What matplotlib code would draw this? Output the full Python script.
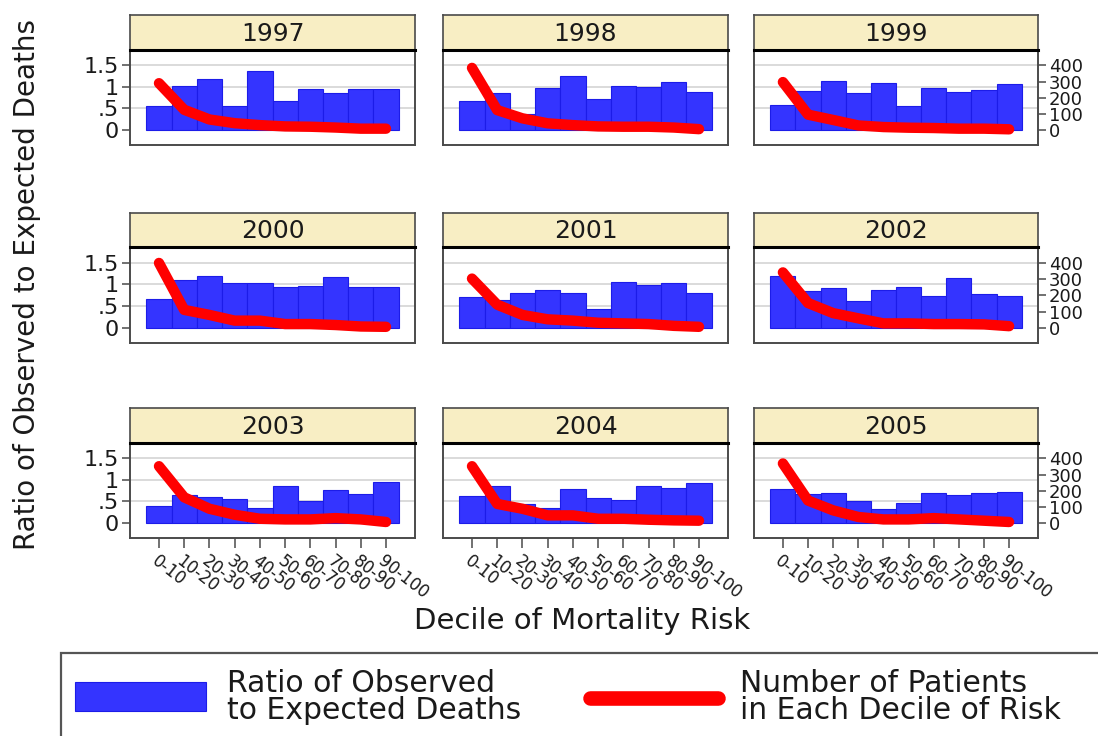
"""
Observed/expected death ratio and patient counts by decile of mortality risk,
one small panel per year (1997-2005), bars on the left axis and the patient
count as a thick red line on the right axis.
"""
import matplotlib
matplotlib.use("Agg")
import matplotlib.pyplot as plt
from matplotlib.patches import Rectangle
from matplotlib.lines import Line2D
import numpy as np


# ---------------------------------------------------------------------------
# Data
# ---------------------------------------------------------------------------

years = ["1997", "1998", "1999", "2000", "2001", "2002", "2003", "2004", "2005"]
deciles = ["0-10", "10-20", "20-30", "30-40", "40-50",
           "50-60", "60-70", "70-80", "80-90", "90-100"]

# ratio of observed to expected deaths, one row per year
ratio = [
    [0.55, 1.03, 1.18, 0.55, 1.37, 0.68, 0.95, 0.86, 0.95, 0.95],
    [0.67, 0.85, 0.37, 0.98, 1.25, 0.73, 1.02, 0.99, 1.12, 0.88],
    [0.58, 0.90, 1.14, 0.85, 1.09, 0.56, 0.98, 0.88, 0.94, 1.06],
    [0.66, 1.10, 1.19, 1.03, 1.03, 0.94, 0.97, 1.16, 0.94, 0.94],
    [0.71, 0.65, 0.79, 0.88, 0.79, 0.43, 1.05, 0.98, 1.04, 0.79],
    [1.20, 0.84, 0.92, 0.62, 0.87, 0.93, 0.73, 1.14, 0.77, 0.73],
    [0.40, 0.66, 0.61, 0.56, 0.35, 0.86, 0.50, 0.77, 0.67, 0.96],
    [0.62, 0.86, 0.44, 0.35, 0.80, 0.57, 0.53, 0.85, 0.82, 0.92],
    [0.79, 0.67, 0.69, 0.50, 0.33, 0.46, 0.69, 0.65, 0.69, 0.73],
]

# number of patients in each decile of risk, one row per year
patients = [
    [290, 125, 65, 42, 30, 22, 20, 15, 8, 8],
    [385, 123, 72, 41, 30, 22, 20, 20, 15, 5],
    [297, 95, 62, 28, 18, 14, 12, 8, 8, 4],
    [398, 110, 79, 44, 44, 23, 23, 17, 8, 6],
    [302, 142, 79, 52, 44, 31, 27, 23, 12, 6],
    [340, 152, 90, 58, 27, 27, 23, 23, 21, 10],
    [352, 159, 88, 51, 26, 22, 22, 30, 22, 6],
    [352, 118, 88, 47, 47, 26, 26, 20, 16, 14],
    [369, 139, 78, 37, 22, 22, 30, 22, 14, 6],
]

ratio_ticks = [0, 0.5, 1, 1.5]
ratio_ticklabels = ["0", ".5", "1", "1.5"]
count_ticks = [0, 100, 200, 300, 400]

# ---------------------------------------------------------------------------
# Styling / layout (pixel units on a 1098 x 736 canvas)
# ---------------------------------------------------------------------------

W, H = 1098, 736
BLUE = "#3434FF"
BLUE_EDGE = "#1C1CE8"
RED = "#FF0000"
STRIP = "#F8EEC4"
FRAME = "#4a4a4a"
TEXT = "#1a1a1a"
GRID = "#d8d8d8"

col_px = [(130, 415), (443, 728), (754, 1038)]
row_px = [(15, 50, 145), (213, 247, 343), (408, 443, 538)]   # strip top, plot top, plot bottom

ylim = (-0.35, 1.86)
scale = 400 / 1.5          # right-axis counts per unit of ratio
xlim = (-1.15, 10.15)

plt.rcParams["font.family"] = ["DejaVu Sans"]
plt.rcParams["text.color"] = TEXT
plt.rcParams["xtick.color"] = FRAME
plt.rcParams["ytick.color"] = FRAME
plt.rcParams["xtick.labelcolor"] = TEXT
plt.rcParams["ytick.labelcolor"] = TEXT

fig = plt.figure(figsize=(W / 100, H / 100), dpi=100)
fig.patch.set_facecolor("white")


def px_rect(x0, x1, ytop, ybot):
    return [x0 / W, 1 - ybot / H, (x1 - x0) / W, (ybot - ytop) / H]


x = np.arange(len(deciles))

for i, year in enumerate(years):
    r, c = divmod(i, 3)
    x0, x1 = col_px[c]
    s_top, p_top, p_bot = row_px[r]

    # --- year strip ---
    strip = fig.add_axes(px_rect(x0, x1, s_top, p_top))
    strip.set_facecolor(STRIP)
    strip.set_xticks([])
    strip.set_yticks([])
    for sp in strip.spines.values():
        sp.set_color(FRAME)
        sp.set_linewidth(1.2)
    strip.text(0.5, 0.47, year, ha="center", va="center",
               fontsize=18, transform=strip.transAxes)

    # --- bars: observed / expected ratio ---
    ax = fig.add_axes(px_rect(x0, x1, p_top, p_bot))
    for g in ratio_ticks[1:]:
        ax.axhline(g, color=GRID, linewidth=1.3, zorder=0)
    ax.bar(x, ratio[i], width=1.0, color=BLUE, edgecolor=BLUE_EDGE,
           linewidth=0.8, zorder=2)
    ax.set_xlim(*xlim)
    ax.set_ylim(*ylim)
    for sp in ax.spines.values():
        sp.set_color(FRAME)
        sp.set_linewidth(1.2)

    if c == 0:
        ax.set_yticks(ratio_ticks)
        ax.set_yticklabels(ratio_ticklabels)
        ax.tick_params(axis="y", labelsize=16, length=6, width=1.1, pad=2)
    else:
        ax.set_yticks([])

    if r == 2:
        ax.set_xticks(x)
        ax.set_xticklabels(deciles, rotation=-38, ha="left", va="top",
                           rotation_mode="anchor")
        ax.tick_params(axis="x", labelsize=12, length=7, width=1.1, pad=3)
    else:
        ax.set_xticks([])

    # --- line: number of patients (right axis) ---
    ax2 = ax.twinx()
    ax2.plot(x, patients[i], color=RED, linewidth=7.5,
             solid_capstyle="round", solid_joinstyle="round", zorder=3)
    ax2.set_ylim(ylim[0] * scale, ylim[1] * scale)
    ax2.set_xlim(*xlim)
    for sp in ax2.spines.values():
        sp.set_color(FRAME)
        sp.set_linewidth(1.2)
    ax2.spines["top"].set_color("black")
    ax2.spines["top"].set_linewidth(2.2)

    if c == 2:
        ax2.set_yticks(count_ticks)
        ax2.tick_params(axis="y", labelsize=13, length=6, width=1.1, pad=2)
    else:
        ax2.set_yticks([])

# axis titles
fig.text(27 / W, 1 - 285 / H, "Ratio of Observed to Expected Deaths",
         rotation=90, ha="center", va="center", fontsize=20)
fig.text(582 / W, 1 - 621 / H, "Decile of Mortality Risk",
         ha="center", va="center", fontsize=21)

# ---------------------------------------------------------------------------
# Legend panel along the bottom edge
# ---------------------------------------------------------------------------

leg = fig.add_axes([0, 0, 1, 1], zorder=-1)
leg.set_xlim(0, W)
leg.set_ylim(H, 0)
leg.axis("off")
leg.add_patch(Rectangle((61, 653), W + 20, 120, facecolor="white",
                        edgecolor="#555555", linewidth=1.6))
leg.add_patch(Rectangle((75, 682), 131, 29, facecolor=BLUE,
                        edgecolor=BLUE_EDGE, linewidth=0.8))
leg.add_line(Line2D([590, 718], [698, 698], color=RED, linewidth=10.5,
                    solid_capstyle="round"))
leg.text(227, 697, "Ratio of Observed\nto Expected Deaths", ha="left",
         va="center", fontsize=21.5, linespacing=0.92)
leg.text(740, 697, "Number of Patients\nin Each Decile of Risk", ha="left",
         va="center", fontsize=21.5, linespacing=0.92)

fig.savefig("out.png", dpi=100)
